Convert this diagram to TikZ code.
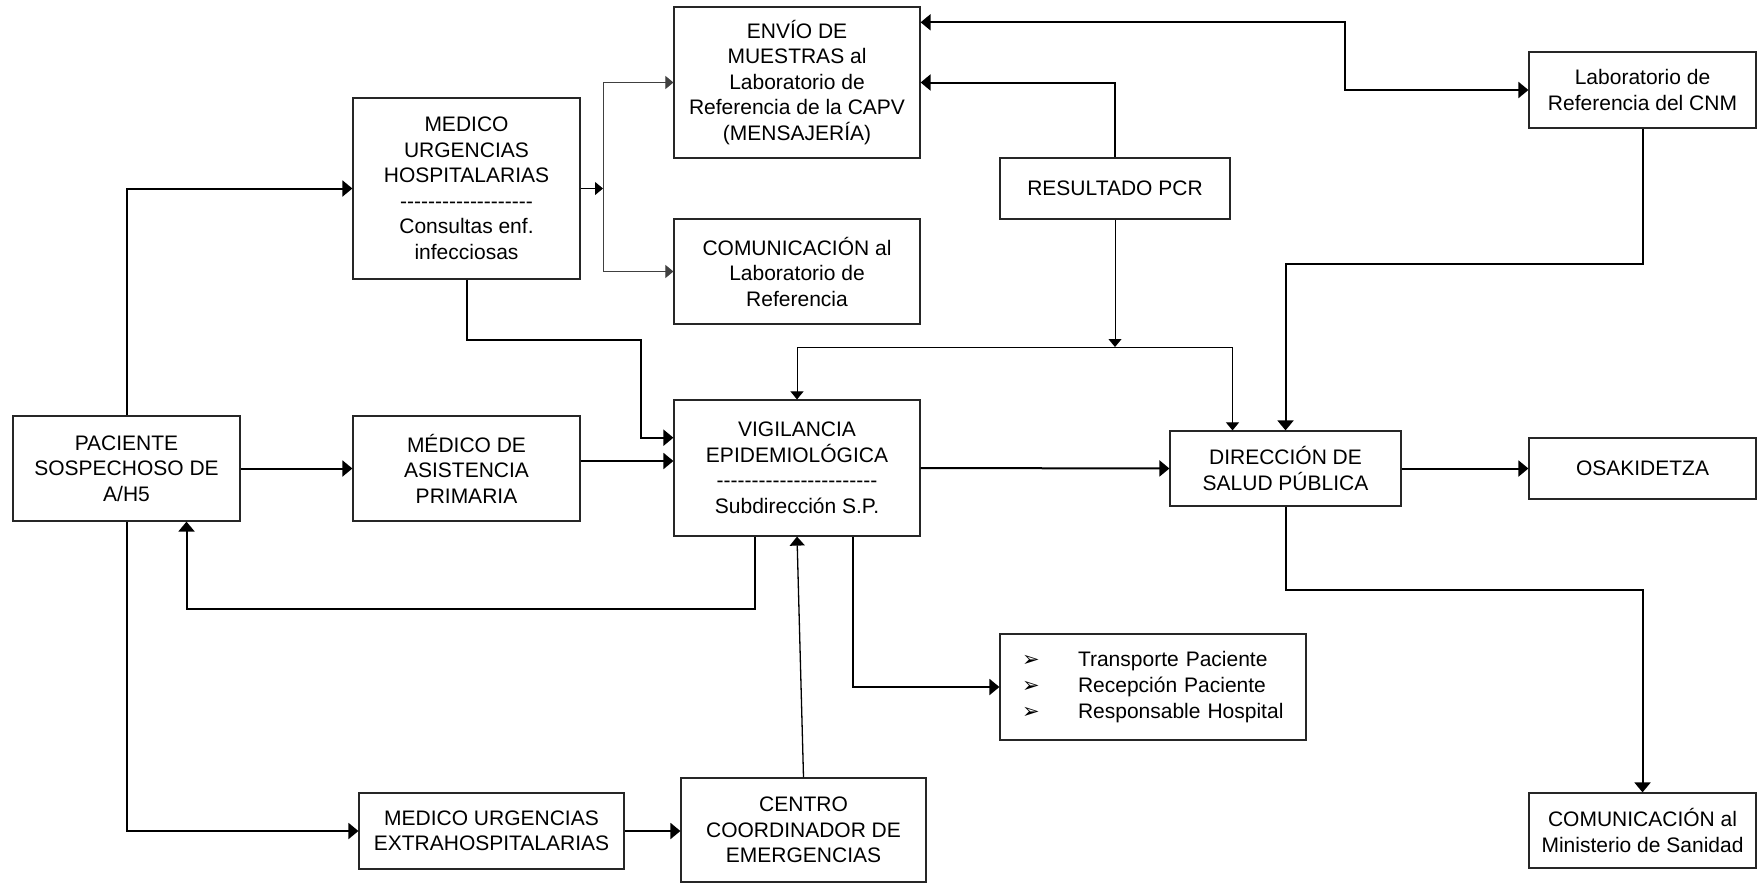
\documentclass[tikz,border=0pt]{standalone}
\usepackage{fontspec}
\setmainfont{Liberation Sans}
\newfontfamily\dejavu{DejaVu Sans}
\usetikzlibrary{arrows.meta}
\newcommand\dsh{-\kern0pt}
\newcommand\blt{\makebox[56pt][l]{\dejavu\fontsize{21}{21}\selectfont ➢}}
\begin{document}
\begin{tikzpicture}[x=1pt,y=-1pt,
  box/.style={draw=black!85, line width=1.2pt, align=center, inner sep=0pt,
    font=\fontsize{21}{25.5}\selectfont},
  thk/.style={line width=2pt, -{Triangle[length=10pt,width=16pt]}},
  thn/.style={line width=1pt, -{Triangle[length=8pt,width=13pt]}},
  mid/.style={line width=1.3pt, -{Triangle[length=9pt,width=15pt]}},
]
\useasboundingbox (0,0) rectangle (1760,883);

% boxes
\node[box, minimum width=227pt, minimum height=105pt] (pac) at (126.5,468.5)
  {PACIENTE\\SOSPECHOSO DE\\A/H5};
\node[box, minimum width=227pt, minimum height=181pt] (mug) at (466.5,188.5)
  {MEDICO\\URGENCIAS\\HOSPITALARIAS\\\dsh\dsh\dsh\dsh\dsh\dsh\dsh\dsh\dsh\dsh\dsh\dsh\dsh\dsh\dsh\dsh\dsh\dsh\dsh\\Consultas enf.\\infecciosas};
\node[box, minimum width=227pt, minimum height=105pt] (mas) at (466.5,468.5)
  {MÉDICO DE\\ASISTENCIA\\PRIMARIA};
\node[box, minimum width=246pt, minimum height=151pt] (env) at (797,82.5)
  {ENVÍO DE\\MUESTRAS al\\Laboratorio de\\Referencia de la CAPV\\(MENSAJERÍA)};
\node[box, minimum width=246pt, minimum height=105pt] (com) at (797,271.5)
  {COMUNICACIÓN al\\Laboratorio de\\Referencia};
\node[box, minimum width=246pt, minimum height=136pt] (vig) at (797,468)
  {VIGILANCIA\\EPIDEMIOLÓGICA\\\dsh\dsh\dsh\dsh\dsh\dsh\dsh\dsh\dsh\dsh\dsh\dsh\dsh\dsh\dsh\dsh\dsh\dsh\dsh\dsh\dsh\dsh\dsh\\Subdirección S.P.};
\node[box, minimum width=230pt, minimum height=61pt] (res) at (1115,188.5)
  {RESULTADO PCR};
\node[box, minimum width=227pt, minimum height=76pt] (lab) at (1642.5,90)
  {Laboratorio de\\Referencia del CNM};
\node[box, minimum width=231pt, minimum height=75pt] (dir) at (1285.5,468.5)
  {DIRECCIÓN DE\\SALUD PÚBLICA};
\node[box, minimum width=227pt, minimum height=61pt] (osa) at (1642.5,468.5)
  {OSAKIDETZA};
\node[box, text width=262pt, inner xsep=22pt, minimum height=106pt, align=left,
  font=\fontsize{21}{26}\selectfont] (bul) at (1153,687)
  {\blt Transporte Paciente\\
   \blt Recepción Paciente\\
   \blt Responsable Hospital};
\node[box, minimum width=227pt, minimum height=75pt] (min) at (1642.5,830.5)
  {COMUNICACIÓN al\\Ministerio de Sanidad};
\node[box, minimum width=265pt, minimum height=76pt] (ext) at (491.5,831)
  {MEDICO URGENCIAS\\EXTRAHOSPITALARIAS};
\node[box, minimum width=245pt, minimum height=104pt] (cen) at (803.5,830)
  {CENTRO\\COORDINADOR DE\\EMERGENCIAS};

% junction coordinates
\coordinate (br) at (603,188.5);
\coordinate (j1) at (640.6,340);
\coordinate (labjog) at (1345,56);
\coordinate (j2) at (1115,347);
\coordinate (j3) at (1285.5,264.3);

% connectors
\draw[thk] (pac.north) |- (mug.west);
\draw[thk] (pac.east) -- (mas.west);
\draw[thk] ([yshift=7.5pt]mas.east) -- ([yshift=7.5pt]mas.east -| vig.west);
\draw[thk] (mug.south) |- (j1) |- ([yshift=30.3pt]vig.west);
\draw[thn] (mug.east) -- (br);
\draw[thn, draw=black!75] (br) |- (env.west);
\draw[thn, draw=black!75] (br) |- (com.west);
\draw[line width=2pt, {Triangle[length=10pt,width=16pt]}-{Triangle[length=10pt,width=16pt]}]
  ([yshift=60.2pt]env.east) -| (labjog) |- (lab.west);
\draw[thk] (res.north) |- (env.east);
\draw[thn] (res.south) -- (j2);
\draw[thn] (j2) -| (vig.north);
\draw[thn] (j2) -| ([xshift=-53pt]dir.north);
\draw[thk] (lab.south) |- (j3) -- (dir.north);
\draw[thk] (vig.east) -- (dir.west);
\draw[thk] (dir.east) -- (osa.west);
\draw[thk] (dir.south) -- ++(0,83.3) -| (min.north);
\draw[thk] ([xshift=-42.5pt]vig.south) -- ++(0,72) -| ([xshift=60pt]pac.south);
\draw[mid] (cen.north) -- (vig.south);
\draw[thk] ([xshift=55.7pt]vig.south) |- (bul.west);
\draw[thk] (pac.south) |- (ext.west);
\draw[thk] (ext.east) -- (ext.east -| cen.west);
\end{tikzpicture}
\end{document}
